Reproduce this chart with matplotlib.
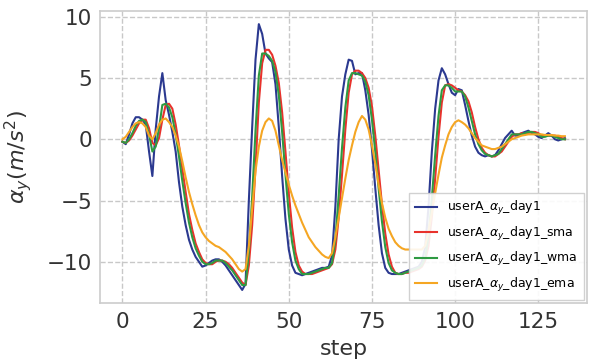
import numpy as np
import matplotlib.pyplot as plt

# acceleration along y for userA, day 1
raw = [-0.2, -0.4, 0.4, 1.3, 1.8, 1.8, 1.6, 1.2, -1.0, -3.0,
       0.8, 3.5, 5.4, 3.2, 2.0, 0.6, -1.0, -3.5, -5.5, -7.0,
       -8.2, -9.0, -9.6, -10.0, -10.4, -10.3, -10.1, -9.9, -9.8, -9.8,
       -10.0, -10.3, -10.7, -11.1, -11.5, -11.9, -12.3, -11.8, -5.0, 1.0,
       6.5, 9.4, 8.6, 7.0, 6.6, 6.3, 4.5, 1.0, -3.0, -6.5,
       -9.0, -10.3, -10.9, -11.0, -11.1, -11.0, -10.9, -10.8, -10.7, -10.6,
       -10.5, -10.5, -10.4, -9.5, -5.5, 0.0, 3.5, 5.3, 6.5, 6.4,
       5.3, 5.4, 5.4, 4.0, 2.0, -0.8, -4.0, -7.0, -9.3, -10.5,
       -10.9, -11.0, -11.0, -11.0, -10.9, -10.8, -10.7, -10.6, -10.5, -10.4,
       -10.0, -8.8, -5.5, -1.0, 2.5, 4.8, 5.8, 5.3, 4.5, 3.8,
       3.6, 4.1, 4.0, 2.8, 1.5, 0.3, -0.6, -1.1, -1.3, -1.4,
       -1.3, -1.4, -1.3, -0.9, -0.4, 0.1, 0.4, 0.7, 0.3, 0.3,
       0.5, 0.6, 0.7, 0.5, 0.4, 0.2, 0.1, 0.3, 0.5, 0.3,
       0.0, -0.1, 0.0, 0.1]

sma = [-0.2, -0.3, -0.1, 0.3, 0.8, 1.3, 1.6, 1.6, 0.9, -0.3,
       -0.5, 0.1, 1.6, 2.8, 2.9, 2.5, 1.2, -0.5, -2.4, -4.3,
       -6.1, -7.4, -8.5, -9.2, -9.8, -10.1, -10.2, -10.2, -10.0, -9.9,
       -9.9, -10.0, -10.2, -10.5, -10.9, -11.3, -11.7, -11.9, -10.3, -7.0,
       -2.3, 3.0, 6.2, 7.3, 7.3, 6.9, 6.0, 4.6, 2.2, -1.0,
       -4.4, -7.2, -9.2, -10.3, -10.8, -11.0, -11.0, -11.0, -10.9, -10.8,
       -10.7, -10.6, -10.5, -10.2, -9.0, -6.4, -2.9, 0.8, 3.8, 5.3,
       5.6, 5.6, 5.4, 5.0, 4.2, 2.7, 0.3, -2.5, -5.3, -7.7,
       -9.4, -10.4, -10.9, -11.0, -11.0, -10.9, -10.9, -10.8, -10.7, -10.6,
       -10.4, -9.9, -8.7, -6.3, -3.2, 0.2, 3.0, 4.4, 4.5, 4.4,
       4.2, 4.0, 3.9, 3.6, 3.1, 2.2, 1.0, 0.0, -0.7, -1.1,
       -1.3, -1.4, -1.4, -1.2, -1.0, -0.6, -0.2, 0.2, 0.4, 0.4,
       0.5, 0.4, 0.5, 0.6, 0.6, 0.5, 0.3, 0.3, 0.3, 0.3,
       0.3, 0.2, 0.1, 0.0]

wma = [-0.2, -0.3, 0.0, 0.5, 1.1, 1.5, 1.6, 1.4, 0.4, -1.0,
       -0.6, 0.9, 2.8, 2.9, 2.6, 1.8, 0.4, -1.4, -3.4, -5.2,
       -6.8, -8.0, -8.9, -9.5, -10.0, -10.2, -10.2, -10.1, -9.9, -9.9,
       -9.9, -10.1, -10.4, -10.7, -11.1, -11.5, -11.9, -11.9, -9.2, -4.7,
       0.7, 5.2, 7.0, 7.0, 6.8, 6.4, 5.5, 3.6, 0.6, -2.9,
       -6.1, -8.4, -9.9, -10.6, -11.0, -11.0, -11.0, -10.9, -10.8, -10.7,
       -10.6, -10.5, -10.5, -10.1, -8.2, -4.6, -0.7, 2.6, 4.8, 5.4,
       5.4, 5.3, 5.2, 4.7, 3.6, 1.6, -1.0, -4.0, -6.7, -8.8,
       -10.1, -10.7, -10.9, -11.0, -11.0, -10.9, -10.8, -10.7, -10.6, -10.5,
       -10.3, -9.7, -7.9, -4.8, -1.3, 1.9, 4.0, 4.4, 4.4, 4.2,
       3.9, 3.9, 3.9, 3.5, 2.6, 1.5, 0.4, -0.4, -0.9, -1.2,
       -1.3, -1.4, -1.3, -1.2, -0.8, -0.4, 0.0, 0.4, 0.4, 0.4,
       0.4, 0.5, 0.6, 0.6, 0.5, 0.4, 0.2, 0.2, 0.3, 0.3,
       0.2, 0.1, 0.0, 0.0]

ema = [0.0, 0.2, 0.6, 1.0, 1.3, 1.4, 1.3, 1.0, 0.3, 0.0,
       0.5, 1.2, 1.6, 1.7, 1.4, 1.0, 0.3, -0.6, -1.8, -3.1,
       -4.3, -5.3, -6.2, -7.0, -7.6, -8.0, -8.3, -8.5, -8.7, -8.8,
       -9.0, -9.2, -9.5, -9.8, -10.2, -10.6, -10.8, -10.6, -8.7, -5.6,
       -2.6, -0.6, 0.7, 1.4, 1.7, 1.5, 0.7, -0.5, -1.7, -2.7,
       -3.7, -4.6, -5.4, -6.1, -6.8, -7.4, -8.0, -8.4, -8.8, -9.1,
       -9.4, -9.6, -9.7, -9.3, -8.0, -6.4, -4.8, -3.2, -1.7, -0.5,
       0.6, 1.4, 1.9, 1.6, 0.8, -0.5, -2.0, -3.7, -5.2, -6.4,
       -7.3, -7.9, -8.4, -8.7, -8.9, -9.0, -9.0, -9.0, -9.0, -9.0,
       -9.0, -8.7, -7.5, -6.0, -4.4, -2.9, -1.5, -0.5, 0.4, 1.0,
       1.4, 1.55, 1.4, 1.2, 0.9, 0.5, 0.1, -0.2, -0.5, -0.6,
       -0.7, -0.8, -0.8, -0.7, -0.6, -0.4, -0.2, 0.0, 0.1, 0.2,
       0.3, 0.35, 0.4, 0.4, 0.4, 0.4, 0.4, 0.35, 0.35, 0.35,
       0.3, 0.3, 0.25, 0.25]

labels = ['userA_$\\alpha_y$_day1', 'userA_$\\alpha_y$_day1_sma',
          'userA_$\\alpha_y$_day1_wma', 'userA_$\\alpha_y$_day1_ema']
colors = ['#2b3990', '#e8322c', '#2e9a42', '#f5a623']

steps = np.arange(len(raw))

fig = plt.figure(figsize=(5.9, 3.61), dpi=100)
ax = fig.add_axes([0.17, 0.16, 0.825, 0.81])

for series, lab, col in zip([raw, sma, wma, ema], labels, colors):
    ax.plot(steps, series, color=col, lw=1.5, label=lab)

ax.grid(True, ls='--', color='#c8c8c8', lw=1.0)
for s in ax.spines.values():
    s.set_color('#cccccc')
    s.set_linewidth(1.2)
ax.tick_params(length=0, labelsize=15.5, colors='#333333', pad=6)
ax.set_xticks([0, 25, 50, 75, 100, 125])
ax.set_yticks([-10, -5, 0, 5, 10])
ax.set_xlabel('step', fontsize=16, color='#333333', labelpad=5)
ax.set_ylabel('$\\alpha_y(m/s^2)$', fontsize=16, color='#333333', labelpad=9)
ax.legend(loc='lower right', fontsize=9, frameon=True, framealpha=0.9,
          edgecolor='#cccccc', fancybox=False, borderpad=0.5, labelspacing=0.6,
          handlelength=1.8, borderaxespad=0.25)

plt.savefig('out.png', dpi=100)
